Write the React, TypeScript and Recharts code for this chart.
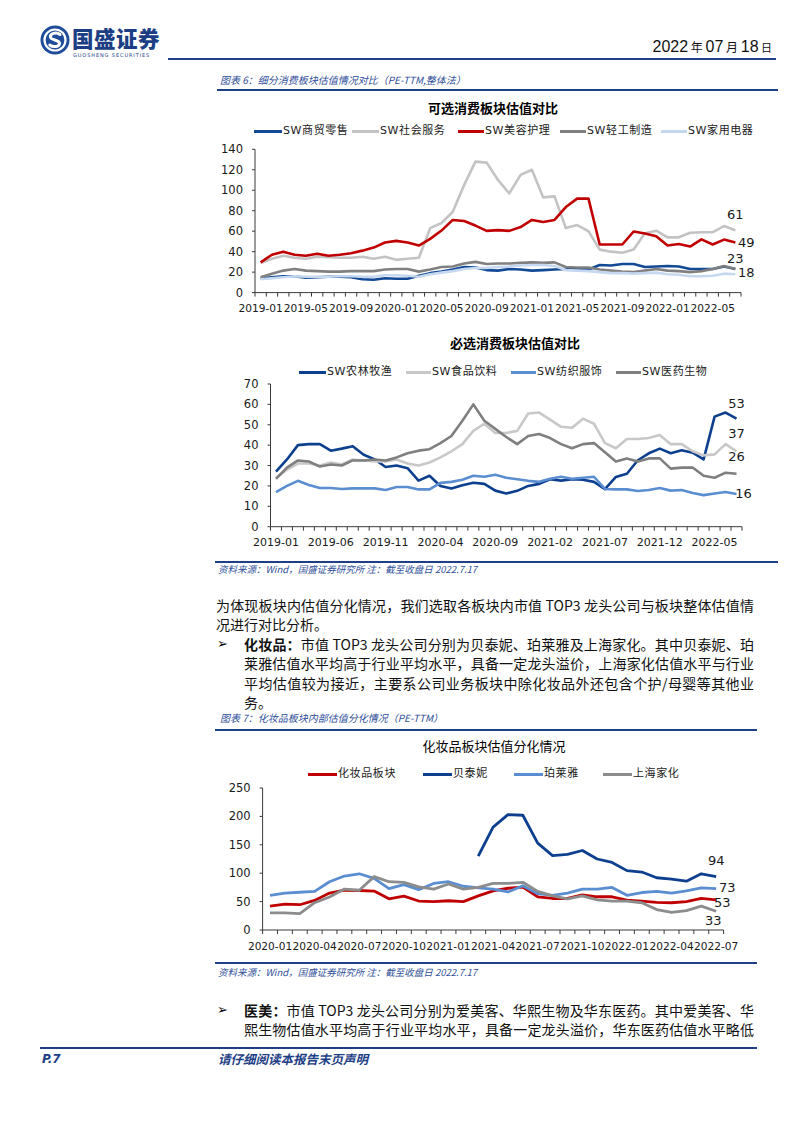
import React from 'react';
import { LineChart, Line, XAxis, YAxis, LabelList } from 'recharts';

// ---------- categories ----------
const months1 = [
  '2019-01','2019-02','2019-03','2019-04','2019-05','2019-06','2019-07','2019-08','2019-09','2019-10','2019-11','2019-12',
  '2020-01','2020-02','2020-03','2020-04','2020-05','2020-06','2020-07','2020-08','2020-09','2020-10','2020-11','2020-12',
  '2021-01','2021-02','2021-03','2021-04','2021-05','2021-06','2021-07','2021-08','2021-09','2021-10','2021-11','2021-12',
  '2022-01','2022-02','2022-03','2022-04','2022-05','2022-06','2022-07',
];
const months3 = [
  '2020-01','2020-02','2020-03','2020-04','2020-05','2020-06','2020-07','2020-08','2020-09','2020-10','2020-11','2020-12',
  '2021-01','2021-02','2021-03','2021-04','2021-05','2021-06','2021-07','2021-08','2021-09','2021-10','2021-11','2021-12',
  '2022-01','2022-02','2022-03','2022-04','2022-05','2022-06','2022-07',
];

// ---------- chart 1: 可选消费 ----------
const shangmao = [14,15,16,16,14.5,15,15.5,15.5,15,13,12.5,14,13.5,13.5,16.5,19,20.5,22.5,25,24.5,22,21.5,23,22.5,21.5,22,22.5,23,23,22.5,27,26.5,28,28,25,25.5,26,25.5,23,23,23,25.5,23];
const shehui = [29,33,36,34,33,35,34.5,34,34,35,33,35,32,33,34,63,68,79,105,128,127,110,97,115,120,93,94,63,66,60,42,40,39,42,58,60.5,54,54,58.5,59,59,65,61];
const meirong = [29.5,37,40,37,36,38,36,37,38.5,41,44,49,50.5,49,46,52.5,60.6,71,70,65.5,60.3,61,60.3,64,71,69,71,83.6,91.8,92,47,47,47,59.7,57.7,55,46,47.5,45,52,47,51.8,49];
const qinggong = [15,18.5,21.5,23,21.5,21,20.5,20.5,21,21,21,22.5,23,23,20.5,22.5,25,25.5,28.5,30,28,28.5,28.5,29,29.5,29,29.5,25,24.5,24.5,22.5,21.5,20.5,20,21.5,23,21.5,21,20,21,23,26,23];
const jiadian = [13,14,15,16,15.5,15.5,15.5,16,16,15.5,15.5,17,17,16.5,15.5,18,19.5,21,23,24,24,25,25.5,26.5,27,27,26,22,21.5,21,20,19,19,18.5,19,19.5,18,17.5,16,16,16.5,18.5,18];
const yTicks1 = [0,20,40,60,80,100,120,140];

// ---------- chart 2: 必选消费 ----------
const nonglin = [27,33,40,40.5,40.5,37.3,38.3,39.5,35.3,33,29.3,30,28.7,22.6,25,20,18.7,20.3,21.6,21,17.7,16.3,17.6,20,21,23.3,22.6,23.3,23,22,18.4,24.4,26,32.6,36,38.3,36,37.5,36.3,33,54,56,53];
const shipin = [24,28,31,31,30,31.5,30.5,33,32.5,32,32,33,31,30,31.5,34,37,40.5,47,50.5,46,46,47,55.5,56,52.5,49,48.5,53,50.5,41,38.5,43,43,43.5,45,40.5,40.5,37,35,35.5,40.5,37];
const fangzhi = [17,20,22.5,20.5,19,19,18.5,18.8,18.8,18.8,18,19.5,19.5,18.3,18.3,21.5,22,23,25,24.5,25.5,24,23.3,22.5,22,23.5,24.5,23.5,24,24.5,18.5,18.3,18.3,17.5,18,19,17.7,18,16.5,15.5,16.3,17,16];
const yiyao = [23.5,29,32.5,32,29.5,30.5,30,32.5,32.5,33,32.5,34,36,37.3,38,41,44.5,52,60,52,48,44,40.5,44.5,45.5,43.5,40.5,38.5,40.5,41,36.5,32,33.5,32,33.5,33.5,28.5,29,29,25,24,26.5,26];
const yTicks2 = [0,10,20,30,40,50,60,70];

// ---------- chart 3: 化妆品板块 ----------
const bankuai = [42,45.5,44.5,52,65,70,69.5,68.5,55,59.5,51,50,51.5,50,60,69,73.5,75.5,58.5,55.5,55.5,62,58.5,58.5,52.5,51,48.5,48,50,55.5,53];
const beitaini = [null,null,null,null,null,null,null,null,null,null,null,null,null,null,130,181,203,202,153,131,133,140,125,119,104.5,102,92,89.5,86,99,94];
const proya = [61,65,66.5,68,85,95,99,91,73,80,71,82,85,77,74,72,67,78,64,61,65,72,72,75,61,66,68,65,69,74,73];
const jiahua = [30,30,29,48,58,72,70,94,85,84,76,72,81,72,75,82,82,84,68,60,55,60,53,51,51,48,36,31,34,42,33];
const yTicks3 = [0,50,100,150,200,250];

type Ser = {
  key: string; name: string; values: (number | null)[]; color: string; sw: number;
  lab?: { dx: number; dy: number };
  leg: { lx: number; tx: number };
};

const series1: Ser[] = [
  { key: 'a', name: 'SW商贸零售', values: shangmao, color: '#124A96', sw: 2.6, lab: { dx: 0, dy: -11 }, leg: { lx: 254, tx: 283 } },
  { key: 'b', name: 'SW社会服务', values: shehui, color: '#C3C3C3', sw: 2.6, lab: { dx: 0, dy: -16 }, leg: { lx: 352, tx: 380 } },
  { key: 'c', name: 'SW美容护理', values: meirong, color: '#C00000', sw: 2.6, lab: { dx: 11, dy: 0 }, leg: { lx: 458, tx: 485 } },
  { key: 'd', name: 'SW轻工制造', values: qinggong, color: '#808080', sw: 2.6, leg: { lx: 560, tx: 587 } },
  { key: 'e', name: 'SW家用电器', values: jiadian, color: '#C6D8EF', sw: 2.6, lab: { dx: 11, dy: -2 }, leg: { lx: 661, tx: 688 } },
];
const series2: Ser[] = [
  { key: 'a', name: 'SW农林牧渔', values: nonglin, color: '#0D3F8F', sw: 2.6, lab: { dx: 0, dy: -15 }, leg: { lx: 299, tx: 327 } },
  { key: 'b', name: 'SW食品饮料', values: shipin, color: '#C8C8C8', sw: 2.6, lab: { dx: 0, dy: -18 }, leg: { lx: 406, tx: 432 } },
  { key: 'c', name: 'SW纺织服饰', values: fangzhi, color: '#5B8ED1', sw: 2.6, lab: { dx: 7, dy: -1 }, leg: { lx: 511, tx: 537 } },
  { key: 'd', name: 'SW医药生物', values: yiyao, color: '#7F7F7F', sw: 2.6, lab: { dx: 0, dy: -17 }, leg: { lx: 616, tx: 642 } },
];
const series3: Ser[] = [
  { key: 'a', name: '化妆品板块', values: bankuai, color: '#C00000', sw: 2.8, lab: { dx: 6, dy: 3 }, leg: { lx: 308, tx: 338 } },
  { key: 'b', name: '贝泰妮', values: beitaini, color: '#0D3F8F', sw: 2.8, lab: { dx: 0, dy: -16 }, leg: { lx: 423, tx: 453 } },
  { key: 'c', name: '珀莱雅', values: proya, color: '#5B8ED1', sw: 2.8, lab: { dx: 11, dy: -1 }, leg: { lx: 514, tx: 544 } },
  { key: 'd', name: '上海家化', values: jiahua, color: '#8C8C8C', sw: 2.8, lab: { dx: -3, dy: 9 }, leg: { lx: 603, tx: 633 } },
];

const NUM_FONT = '"DejaVu Sans", "Noto Sans CJK SC", sans-serif';
const CJK_FONT = '"Noto Sans CJK SC", "DejaVu Sans", sans-serif';
const AXIS = '#3a3a3a';
const BLUE = '#1E3F86';

function buildRows(cats: string[], series: Ser[]) {
  return cats.map((c, i) => {
    const r: any = { cat: c };
    series.forEach((s) => { r[s.key] = s.values[i]; });
    return r;
  });
}

type ChartProps = {
  left: number; top: number; width: number; height: number;
  margin: { top: number; right: number; bottom: number; left: number };
  cats: string[]; series: Ser[]; yTicks: number[]; every: number; step: number; xFont: number;
  title: string; titleX: number; titleY: number; titleBold: boolean; legendY: number;
};

function SeriesChart(p: ChartProps) {
  const rows = buildRows(p.cats, p.series);
  const n = p.cats.length;
  const tick = (tp: any) => {
    const { x, y, payload } = tp;
    const i = tp.index ?? payload.index;
    return (
      <g>
        {i === 0 && <line x1={x - p.step / 2} x2={x - p.step / 2} y1={y} y2={y + 4} stroke={AXIS} strokeWidth={1} />}
        <line x1={x + p.step / 2} x2={x + p.step / 2} y1={y} y2={y + 4} stroke={AXIS} strokeWidth={1} />
        {i % p.every === 0 && (
          <text x={x} y={y + 19.5} textAnchor="middle" fontSize={p.xFont} fontFamily={NUM_FONT} fill="#1a1a1a">
            {payload.value}
          </text>
        )}
      </g>
    );
  };
  const yMax = p.yTicks[p.yTicks.length - 1];
  return (
    <>
      <div style={{ position: 'absolute', left: p.titleX - 150, top: p.titleY - 10, width: 300, height: 20, lineHeight: '20px', textAlign: 'center', fontFamily: CJK_FONT, fontSize: 13, fontWeight: p.titleBold ? 700 : 400, color: '#000' }}>
        {p.title}
      </div>
      {p.series.map((s) => (
        <React.Fragment key={s.key}>
          <div style={{ position: 'absolute', left: s.leg.lx, top: p.legendY - 1.5, width: s.leg.tx - s.leg.lx - 1, height: 3, background: s.color }} />
          <div style={{ position: 'absolute', left: s.leg.tx, top: p.legendY - 9, height: 18, lineHeight: '18px', whiteSpace: 'nowrap', fontFamily: NUM_FONT, fontSize: 11, letterSpacing: 0.6, color: '#1a1a1a' }}>
            {s.name}
          </div>
        </React.Fragment>
      ))}
      <div style={{ position: 'absolute', left: p.left, top: p.top }}>
        <LineChart width={p.width} height={p.height} data={rows} margin={p.margin}>
          <XAxis
            dataKey="cat"
            interval={0}
            tickSize={0}
            tickMargin={0}
            tickLine={false}
            height={25}
            padding={{ left: p.step / 2, right: p.step / 2 }}
            axisLine={{ stroke: AXIS, strokeWidth: 1 }}
            tick={tick}
          />
          <YAxis
            width={40}
            domain={[0, yMax]}
            ticks={p.yTicks}
            interval={0}
            tickSize={3}
            tickMargin={9}
            tickLine={{ stroke: AXIS }}
            axisLine={{ stroke: AXIS, strokeWidth: 1 }}
            tick={{ fontSize: 11.5, fontFamily: NUM_FONT, fill: '#1a1a1a' }}
          />
          {p.series.map((s) => (
            <Line
              key={s.key}
              type="linear"
              dataKey={s.key}
              stroke={s.color}
              strokeWidth={s.sw}
              dot={false}
              activeDot={false}
              connectNulls={false}
              isAnimationActive={false}
              strokeLinejoin="round"
            >
              {s.lab && (
                <LabelList
                  dataKey={s.key}
                  content={(lp: any) => {
                    if (lp.index !== n - 1 || lp.value == null) return null;
                    return (
                      <text x={lp.x + s.lab!.dx} y={lp.y + s.lab!.dy} textAnchor="middle" dominantBaseline="central" fontSize={13} fontFamily={NUM_FONT} fill="#1a1a1a">
                        {Math.round(lp.value)}
                      </text>
                    );
                  }}
                />
              )}
            </Line>
          ))}
        </LineChart>
      </div>
    </>
  );
}

function Txt(props: { x: number; y: number; w?: number; justify?: boolean; style?: React.CSSProperties; children: React.ReactNode }) {
  const { x, y, w, justify, style, children } = props;
  return (
    <div style={{ position: 'absolute', left: x, top: y - 10, width: w, height: 20, lineHeight: '20px', whiteSpace: 'nowrap', textAlign: justify ? 'justify' : 'left', textAlignLast: justify ? 'justify' : 'left', fontFamily: CJK_FONT, fontSize: 14, color: '#111', ...style } as React.CSSProperties}>
      {children}
    </div>
  );
}

function HLine(props: { x1: number; x2: number; y: number; t?: number }) {
  const t = props.t ?? 2;
  return <div style={{ position: 'absolute', left: props.x1, top: props.y - t / 2, width: props.x2 - props.x1, height: t, background: BLUE }} />;
}

const capStyle: React.CSSProperties = { fontSize: 10, fontStyle: 'italic', color: '#2F4F9A' };
const srcStyle: React.CSSProperties = { fontSize: 9.5, fontStyle: 'italic', color: '#2F4F9A' };
const bulletStyle: React.CSSProperties = { fontFamily: NUM_FONT, fontSize: 13, fontWeight: 700, color: '#000' };

export default function App() {
  return (
    <div style={{ position: 'absolute', left: 0, top: 0, width: 794, height: 1123, background: '#fff', overflow: 'hidden' }}>
      {/* header */}
      <svg style={{ position: 'absolute', left: 40, top: 25 }} width={30} height={30} viewBox="0 0 30 30">
        <circle cx={15} cy={15} r={14.5} fill="#1E4B9A" />
        <circle cx={15} cy={15} r={10.5} fill="none" stroke="#fff" strokeWidth={2.2} />
        <path d="M20 9.5 C16 6.5 9.5 8.5 10.5 12.5 C11.3 15.5 19.5 14.5 19.5 18.2 C19.5 22 13 22.5 9.8 20" fill="none" stroke="#fff" strokeWidth={3} strokeLinecap="round" />
      </svg>
      <div style={{ position: 'absolute', left: 72, top: 25, height: 26, lineHeight: '26px', fontFamily: CJK_FONT, fontWeight: 900, fontSize: 21.5, color: '#1B3E84', letterSpacing: 0.5 }}>国盛证券</div>
      <div style={{ position: 'absolute', left: 73, top: 52, height: 6, lineHeight: '6px', fontFamily: NUM_FONT, fontSize: 5, color: '#1B3E84', letterSpacing: 0.9 }}>GUOSHENG SECURITIES</div>
      <div style={{ position: 'absolute', right: 22, top: 37, height: 20, lineHeight: '20px', fontFamily: '"Liberation Sans Narrow", "Liberation Sans", sans-serif', fontSize: 16, color: '#111', whiteSpace: 'nowrap' }}>
        2022<span style={{ fontFamily: CJK_FONT, fontSize: 12 }}> 年 </span>07<span style={{ fontFamily: CJK_FONT, fontSize: 12 }}> 月 </span>18<span style={{ fontFamily: CJK_FONT, fontSize: 11 }}> 日</span>
      </div>
      <HLine x1={168} x2={776} y={59} t={2} />

      {/* figure 6 */}
      <Txt x={220} y={80} style={capStyle}>图表 6：细分消费板块估值情况对比（PE-TTM,整体法）</Txt>
      <HLine x1={217} x2={778} y={90} t={2} />

      <SeriesChart
        left={210} top={95} width={560} height={230}
        margin={{ top: 54.3, right: 29, bottom: 7.4, left: 5 }}
        cats={months1} series={series1} yTicks={yTicks1} every={4} step={486 / 43} xFont={10.6}
        title="可选消费板块估值对比" titleX={493} titleY={108} titleBold legendY={131}
      />
      <SeriesChart
        left={210} top={335} width={560} height={225}
        margin={{ top: 49, right: 28, bottom: 8.3, left: 20.5 }}
        cats={months1} series={series2} yTicks={yTicks2} every={5} step={471.5 / 43} xFont={11}
        title="必选消费板块估值对比" titleX={515} titleY={343} titleBold legendY={372}
      />
      <HLine x1={215} x2={778} y={562} t={2} />
      <Txt x={218} y={569} style={srcStyle}>资料来源：Wind，国盛证券研究所 注：截至收盘日 2022.7.17</Txt>

      {/* body text */}
      <Txt x={216} y={605} w={538} justify>为体现板块内估值分化情况，我们选取各板块内市值 TOP3 龙头公司与板块整体估值情</Txt>
      <Txt x={216} y={624}>况进行对比分析。</Txt>
      <Txt x={217} y={644} style={bulletStyle}>➢</Txt>
      <Txt x={244} y={644} w={510} justify><b>化妆品：</b>市值 TOP3 龙头公司分别为贝泰妮、珀莱雅及上海家化。其中贝泰妮、珀</Txt>
      <Txt x={244} y={663} w={510} justify>莱雅估值水平均高于行业平均水平，具备一定龙头溢价，上海家化估值水平与行业</Txt>
      <Txt x={244} y={683} w={510} justify>平均估值较为接近，主要系公司业务板块中除化妆品外还包含个护/母婴等其他业</Txt>
      <Txt x={244} y={702}>务。</Txt>

      {/* figure 7 */}
      <Txt x={220} y={718} style={capStyle}>图表 7：化妆品板块内部估值分化情况（PE-TTM）</Txt>
      <HLine x1={215} x2={757} y={730} t={2} />
      <SeriesChart
        left={210} top={735} width={560} height={230}
        margin={{ top: 53, right: 46.4, bottom: 10, left: 12.6 }}
        cats={months3} series={series3} yTicks={yTicks3} every={3} step={461 / 31} xFont={10.6}
        title="化妆品板块估值分化情况" titleX={494} titleY={746} titleBold={false} legendY={774}
      />
      <HLine x1={215} x2={757} y={963} t={2} />
      <Txt x={218} y={972} style={srcStyle}>资料来源：Wind，国盛证券研究所 注：截至收盘日 2022.7.17</Txt>

      <Txt x={217} y={1010} style={bulletStyle}>➢</Txt>
      <Txt x={244} y={1010} w={510} justify><b>医美：</b>市值 TOP3 龙头公司分别为爱美客、华熙生物及华东医药。其中爱美客、华</Txt>
      <Txt x={244} y={1029} w={510} justify>熙生物估值水平均高于行业平均水平，具备一定龙头溢价，华东医药估值水平略低</Txt>

      {/* footer */}
      <HLine x1={40} x2={757} y={1048} t={2.5} />
      <Txt x={42} y={1059} style={{ fontFamily: NUM_FONT, fontSize: 12, fontWeight: 700, fontStyle: 'italic', color: BLUE }}>P.7</Txt>
      <Txt x={218} y={1059} style={{ fontSize: 12.5, fontWeight: 700, fontStyle: 'italic', color: BLUE }}>请仔细阅读本报告末页声明</Txt>
    </div>
  );
}
